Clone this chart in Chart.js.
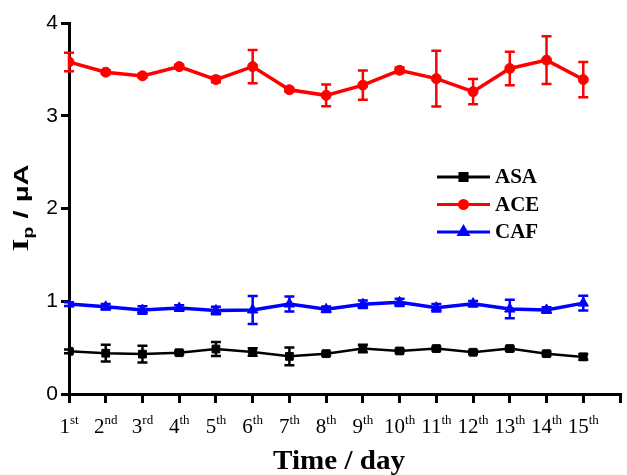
<!DOCTYPE html>
<html>
<head>
<meta charset="utf-8">
<script src="https://cdn.jsdelivr.net/npm/chart.js@4/dist/chart.umd.min.js"></script>
<style>
html,body{margin:0;padding:0;background:#fff;}
#wrap{width:627px;height:475px;position:relative;}
</style>
</head>
<body>
<div id="wrap"><canvas id="c" width="627" height="475"></canvas></div>
<script>
const days = [1,2,3,4,5,6,7,8,9,10,11,12,13,14,15];
const tickNums = ['1','2','3','4','5','6','7','8','9','10','11','12','13','14','15'];
const tickSuffix = ['st','nd','rd','th','th','th','th','th','th','th','th','th','th','th','th'];
const yTicks = [0,1,2,3,4];

const asaMean = [0.46,0.44,0.43,0.445,0.485,0.453,0.406,0.435,0.49,0.464,0.49,0.45,0.49,0.435,0.40];
const asaErr  = [0.02,0.09,0.09,0.02,0.075,0.04,0.095,0.02,0.04,0.02,0.02,0.02,0.02,0.02,0.03];
const aceMean = [3.58,3.47,3.43,3.53,3.39,3.53,3.28,3.22,3.33,3.49,3.40,3.26,3.51,3.60,3.39];
const aceErr  = [0.10,0.02,0.02,0.02,0.03,0.18,0.02,0.117,0.158,0.03,0.30,0.135,0.18,0.257,0.19];
const cafMean = [0.97,0.94,0.906,0.927,0.90,0.906,0.97,0.913,0.967,0.988,0.93,0.974,0.916,0.906,0.98];
const cafErr  = [0.02,0.03,0.04,0.03,0.04,0.15,0.08,0.03,0.04,0.04,0.04,0.03,0.10,0.03,0.08];

const series = [
  {label:'ASA', mean:asaMean, err:asaErr, color:'#000000', style:'rect', r:5.5, lr:5, w:2.5},
  {label:'ACE', mean:aceMean, err:aceErr, color:'#ff0000', style:'circle', r:5, lr:4, w:3.5},
  {label:'CAF', mean:cafMean, err:cafErr, color:'#0000ff', style:'triangle', r:6, lr:5, w:3.5}
];

const serif = '"Liberation Serif", "Times New Roman", serif';
const sans = '"Liberation Sans", Arial, sans-serif';

const customPlugin = {
  id:'custom',
  afterDatasetsDraw(chart){
    const ctx = chart.ctx;
    const xs = chart.scales.x, ys = chart.scales.y;
    chart.data.datasets.forEach((ds,i)=>{
      const s = series[i];
      ctx.save();
      ctx.strokeStyle = s.color;
      ctx.lineWidth = 2.5;
      s.mean.forEach((m,j)=>{
        const px = xs.getPixelForValue(days[j]);
        const y1 = ys.getPixelForValue(m + s.err[j]);
        const y2 = ys.getPixelForValue(m - s.err[j]);
        ctx.beginPath();
        ctx.moveTo(px,y1); ctx.lineTo(px,y2);
        ctx.moveTo(px-5,y1); ctx.lineTo(px+5,y1);
        ctx.moveTo(px-5,y2); ctx.lineTo(px+5,y2);
        ctx.stroke();
      });
      ctx.restore();
    });
  },
  afterDraw(chart){
    const ctx = chart.ctx;
    const xs = chart.scales.x;
    ctx.save();
    ctx.fillStyle = '#000';
    // x tick labels with superscripts
    days.forEach((d,j)=>{
      const px = xs.getPixelForValue(d);
      ctx.font = '21px ' + serif;
      const wn = ctx.measureText(tickNums[j]).width;
      ctx.font = '13px ' + serif;
      const ws = ctx.measureText(tickSuffix[j]).width;
      const start = px - (wn + ws)/2;
      ctx.textBaseline = 'alphabetic';
      ctx.textAlign = 'left';
      ctx.font = '21px ' + serif;
      ctx.fillText(tickNums[j], start, 433);
      ctx.font = '13px ' + serif;
      ctx.fillText(tickSuffix[j], start + wn, 424);
    });
    // x title
    ctx.save();
    ctx.font = 'bold 28px ' + serif;
    ctx.textAlign = 'center';
    const tw = ctx.measureText('Time / day').width;
    ctx.translate(339, 469);
    ctx.scale(132/tw, 1);
    ctx.fillText('Time / day', 0, 0);
    ctx.restore();

    // y title rotated
    ctx.save();
    ctx.translate(28, 208);
    ctx.rotate(-Math.PI/2);
    ctx.textAlign = 'left';
    ctx.textBaseline = 'alphabetic';
    const fI = 'bold 24px ' + serif, fP = 'bold 14px ' + sans, fR = 'bold 21px ' + sans;
    const tI = 'I', tRest = ' / \u00b5A';
    ctx.font = fI; const wI = ctx.measureText(tI).width;
    ctx.font = fP; const wp = ctx.measureText('p').width;
    ctx.font = fR; const wr = ctx.measureText(tRest).width;
    const total = wI + wp + wr;
    ctx.scale(87/total, 1);
    let x0 = -total/2;
    ctx.font = fI; ctx.fillText(tI, x0, 0);
    ctx.font = fP; ctx.fillText('p', x0 + wI, 5);
    ctx.font = fR; ctx.fillText(tRest, x0 + wI + wp, 0);
    ctx.restore();

    // legend
    const rows = [177, 204.5, 232];
    series.forEach((s,i)=>{
      const y = rows[i];
      ctx.save();
      ctx.strokeStyle = s.color;
      ctx.lineWidth = 3;
      ctx.beginPath();
      ctx.moveTo(437,y); ctx.lineTo(490,y);
      ctx.stroke();
      ctx.fillStyle = s.color;
      ctx.strokeStyle = s.color;
      Chart.helpers.drawPoint(ctx, {pointStyle:s.style, radius:s.lr, borderWidth:1, rotation:0}, 463.5, y);
      ctx.fillStyle = '#000';
      ctx.font = 'bold 21px ' + serif;
      ctx.textAlign = 'left';
      ctx.textBaseline = 'middle';
      ctx.fillText(s.label, 495, y + 1);
      ctx.restore();
    });
    ctx.restore();
  }
};

new Chart(document.getElementById('c'), {
  type:'line',
  data:{
    datasets: series.map(s=>({
      label:s.label,
      data: days.map((d,j)=>({x:d, y:s.mean[j]})),
      borderColor:s.color,
      backgroundColor:s.color,
      borderWidth:s.w,
      pointStyle:s.style,
      pointRadius:s.r,
      pointBorderWidth:1,
      pointBackgroundColor:s.color,
      pointBorderColor:s.color,
      tension:0,
      fill:false
    }))
  },
  options:{
    responsive:false,
    animation:false,
    events:[],
    layout:{padding:{left:0,right:3,top:23,bottom:0}},
    plugins:{legend:{display:false}, tooltip:{enabled:false}},
    scales:{
      x:{
        type:'linear', min:1, max:16,
        afterFit(scale){ scale.height = 81; },
        ticks:{display:false, stepSize:1},
        grid:{drawOnChartArea:false, drawTicks:true, tickLength:9, color:'#000', lineWidth:3},
        border:{display:true, color:'#000', width:3}
      },
      y:{
        min:0, max:4,
        afterFit(scale){ scale.width = 69; },
        afterBuildTicks(scale){ scale.ticks = yTicks.map(v=>({value:v})); },
        ticks:{color:'#000', font:{family:sans, size:21}, padding:3},
        grid:{drawOnChartArea:false, drawTicks:true, tickLength:8, color:'#000', lineWidth:3},
        border:{display:true, color:'#000', width:3}
      }
    }
  },
  plugins:[customPlugin]
});
</script>
</body>
</html>
